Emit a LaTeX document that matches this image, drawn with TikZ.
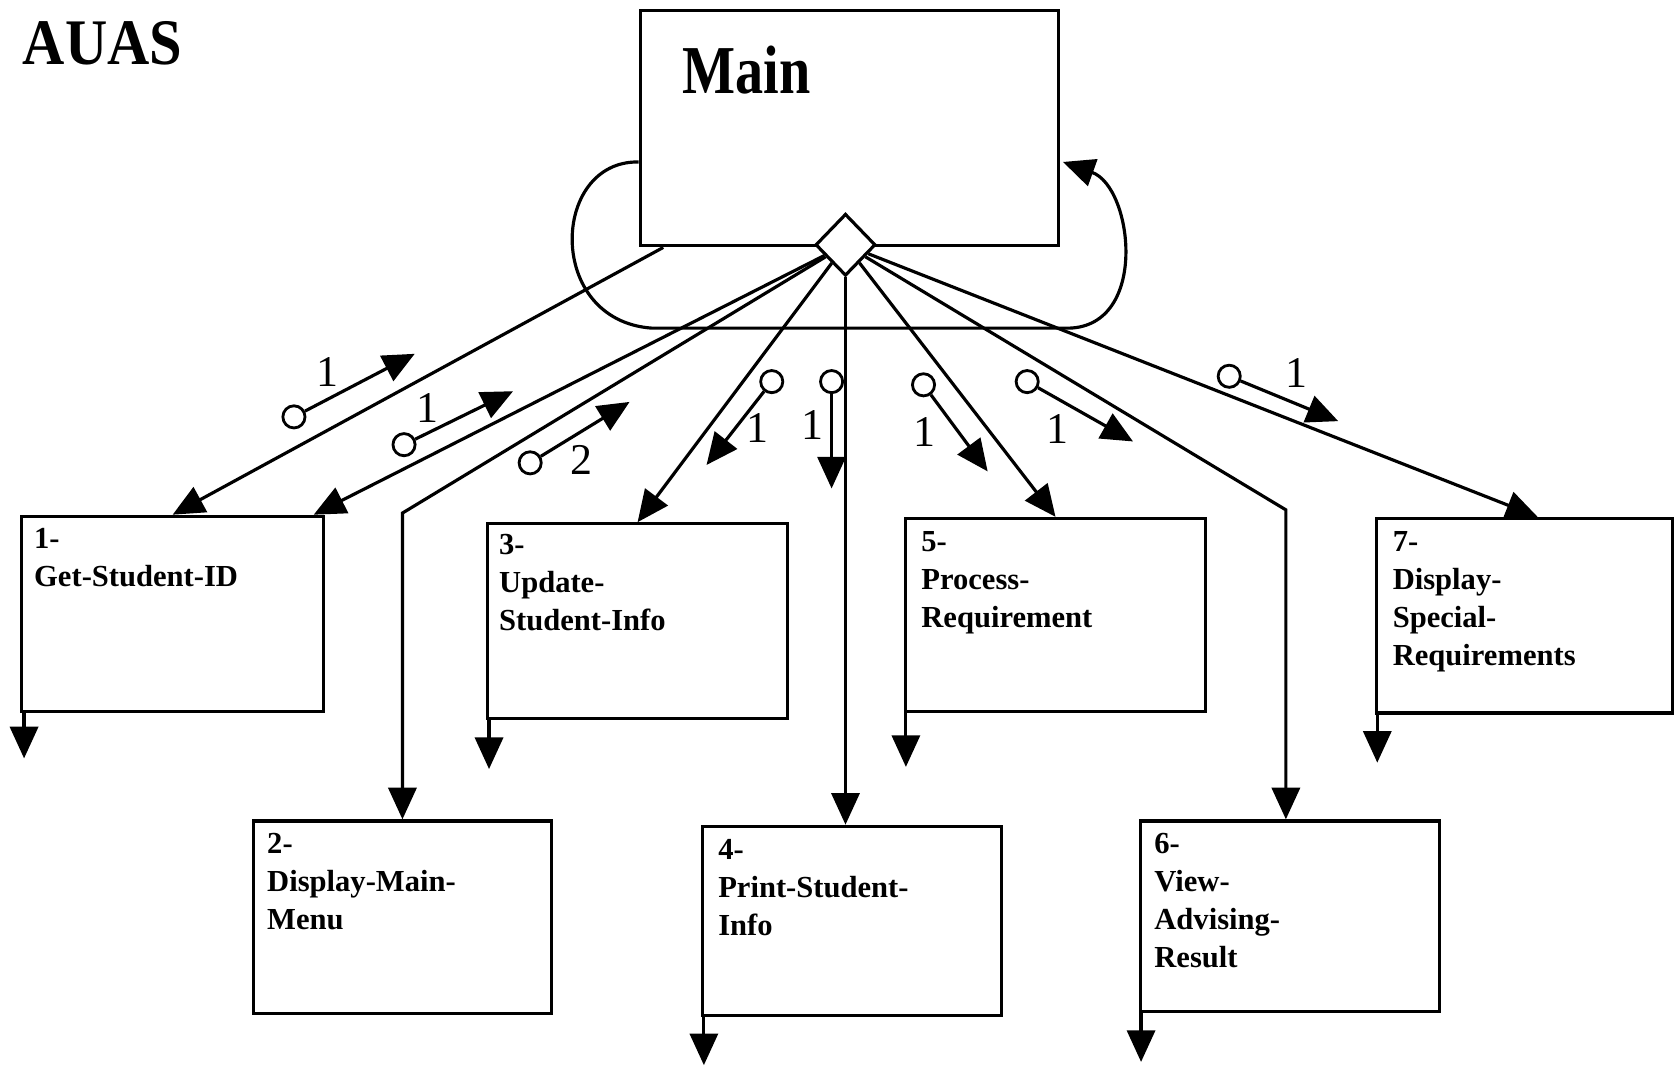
\documentclass[tikz,border=0pt]{standalone}
\usepackage{fontspec}
\setmainfont{Liberation Serif}
\newfontfamily\titlefont[FakeStretch=0.9]{Liberation Serif}
\newfontfamily\mainlblfont[FakeStretch=0.82]{Liberation Serif}
\usetikzlibrary{arrows.meta,shapes.geometric,fit,calc}

\begin{document}
\begin{tikzpicture}[x=0.10689mm,y=-0.10689mm,
  line width=0.9pt,
  box/.style={draw,inner sep=0pt},
  boxtext/.style={anchor=north west,inner sep=0pt,align=left,
    font=\fontsize{8.7}{10.8}\selectfont\bfseries},
  arr/.style={-{Triangle[length=9pt,width=8pt]}},
  flagc/.style={draw,circle,inner sep=0pt,minimum size=6.3pt,line width=0.8pt},
  num/.style={inner sep=0pt,font=\fontsize{12.5}{14}\selectfont}]
\useasboundingbox (0,0) rectangle (1568,997);

% title
\node[anchor=base west,inner sep=0pt,font=\titlefont\fontsize{18.5}{20}\selectfont\bfseries] (title) at (20,60) {AUAS};

% main module
\node[box,fit={(599,10) (990,230)}] (main) {};
\node[anchor=base west,inner sep=0pt,font=\mainlblfont\fontsize{19.5}{22}\selectfont\bfseries] (mainlbl) at (637,87) {Main};

% called modules
\node[box,fit={(20,483) (303,666)}] (b1) {};
\node[box,fit={(237,768) (516,948)}] (b2) {};
\node[box,fit={(456,490) (737,672)}] (b3) {};
\node[box,fit={(657,773) (937,950)}] (b4) {};
\node[box,fit={(847,485) (1128,666)}] (b5) {};
\node[box,fit={(1067,768) (1347,946)}] (b6) {};
\node[box,fit={(1288,485) (1565,667)}] (b7) {};

\node[boxtext] (b1t) at ($(b1.north west)+(12,11)$) {1-\\Get-Student-ID};
\node[boxtext] (b2t) at ($(b2.north west)+(13,12)$) {2-\\Display-Main-\\Menu};
\node[boxtext] (b3t) at ($(b3.north west)+(11,10)$) {3-\\Update-\\Student-Info};
\node[boxtext] (b4t) at ($(b4.north west)+(15,12)$) {4-\\Print-Student-\\Info};
\node[boxtext] (b5t) at ($(b5.north west)+(15,12)$) {5-\\Process-\\Requirement};
\node[boxtext] (b6t) at ($(b6.north west)+(13,12)$) {6-\\View-\\Advising-\\Result};
\node[boxtext] (b7t) at ($(b7.north west)+(15,12)$) {7-\\Display-\\Special-\\Requirements};

% iteration loop round the main module
\coordinate (lp1) at ($(main.north west)+(0,143)$);
\coordinate (lp2) at ($(main.north east)+(3,143)$);
\draw[arr] (lp1) .. controls (515,150) and (510,300) .. (610,307) -- (1000,307)
  .. controls (1075,305) and (1060,175) .. (lp2);

% selection diamond
\node[draw,diamond,fill=white,inner sep=0pt,minimum width=6mm,minimum height=6.2mm] (dia) at (791,229) {};

% calls
\coordinate (m1) at ($(main.south west)+(23,0)$);
\draw[arr] (m1) -- (b1.north);
\draw[arr] (dia) -- ($(b1.north east)+(-11,0)$);
\draw[arr] (dia) -- (b2.north |- 0,480) -- (b2.north);
\draw[arr] (dia) -- (b3.north);
\draw[arr] (dia.south) -- (dia.south |- b4.north);
\draw[arr] (dia) -- (b5.north);
\draw[arr] (dia) -- ($(b6.north |- 0,477)+(-4,0)$) -- ($(b6.north)+(-4,0)$);
\draw[arr] (dia) -- ($(b7.north)+(12,0)$);

% data flags
\node[flagc] (f1) at (275,390) {};
\coordinate (f1e) at (388,331);
\draw[arr] (f1) -- (f1e);
\node[num] (n1) at (306,348) {1};

\node[flagc] (f2) at (378,416) {};
\coordinate (f2e) at (480,366);
\draw[arr] (f2) -- (f2e);
\node[num] (n2) at (400,382) {1};

\node[flagc] (f3) at (496,433) {};
\coordinate (f3e) at (589,376);
\draw[arr] (f3) -- (f3e);
\node[num] (n3) at (544,430) {2};

\node[flagc] (f4) at (722,357) {};
\coordinate (f4e) at (661,435);
\draw[arr] (f4) -- (f4e);
\node[num] (n4) at (709,400) {1};

\node[flagc] (f5) at (778,357) {};
\coordinate (f5e) at (778,457);
\draw[arr] (f5) -- (f5e);
\node[num] (n5) at (760,398) {1};

\node[flagc] (f6) at (864,360) {};
\coordinate (f6e) at (924,441);
\draw[arr] (f6) -- (f6e);
\node[num] (n6) at (865,404) {1};

\node[flagc] (f7) at (961,357) {};
\coordinate (f7e) at (1060,413);
\draw[arr] (f7) -- (f7e);
\node[num] (n7) at (989,401) {1};

\node[flagc] (f8) at (1150,352) {};
\coordinate (f8e) at (1252,394);
\draw[arr] (f8) -- (f8e);
\node[num] (n8) at (1213,349) {1};

% continuation arrows below modules
\draw[arr] ($(b1.south west)+(4,0)$) -- ($(b1.south west)+(4,42)$);
\draw[arr] ($(b3.south west)+(3,0)$) -- ($(b3.south west)+(3,46)$);
\draw[arr] ($(b4.south west)+(3,0)$) -- ($(b4.south west)+(3,45)$);
\draw[arr] ($(b5.south west)+(2,0)$) -- ($(b5.south west)+(2,50)$);
\draw[arr] ($(b6.south west)+(2,0)$) -- ($(b6.south west)+(2,46)$);
\draw[arr] ($(b7.south west)+(2,0)$) -- ($(b7.south west)+(2,45)$);
\end{tikzpicture}
\end{document}
